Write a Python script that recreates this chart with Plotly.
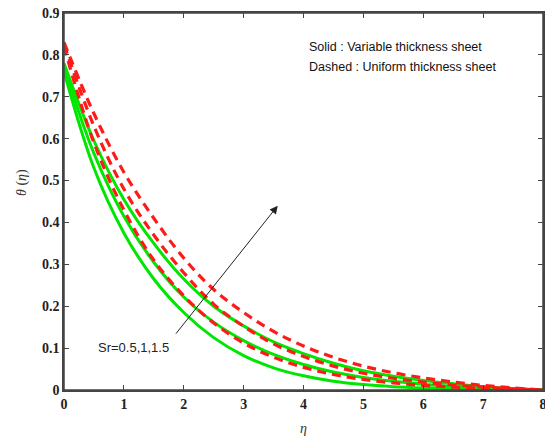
import plotly.graph_objects as go

eta = [0, 0.5, 1, 1.5, 2, 2.5, 3, 3.5, 4, 4.5, 5, 5.5, 6, 6.5, 7, 7.5, 8]

# Solid: variable thickness sheet (Sr = 0.5, 1, 1.5)
solid_sr05 = [0.760, 0.530, 0.375, 0.265, 0.185, 0.125, 0.082, 0.053, 0.034, 0.021, 0.013, 0.008, 0.005, 0.003, 0.0015, 0.0005, 0.0]
solid_sr10 = [0.770, 0.565, 0.415, 0.305, 0.222, 0.162, 0.118, 0.085, 0.061, 0.043, 0.030, 0.021, 0.014, 0.009, 0.005, 0.002, 0.0]
solid_sr15 = [0.780, 0.595, 0.455, 0.350, 0.265, 0.200, 0.153, 0.115, 0.087, 0.064, 0.046, 0.033, 0.023, 0.015, 0.008, 0.003, 0.0]

# Dashed: uniform thickness sheet (Sr = 0.5, 1, 1.5)
dash_sr05 = [0.820, 0.590, 0.430, 0.310, 0.225, 0.160, 0.112, 0.078, 0.054, 0.037, 0.025, 0.017, 0.011, 0.007, 0.004, 0.001, 0.0]
dash_sr10 = [0.825, 0.630, 0.480, 0.370, 0.280, 0.205, 0.152, 0.110, 0.080, 0.057, 0.040, 0.028, 0.019, 0.012, 0.007, 0.003, 0.0]
dash_sr15 = [0.830, 0.660, 0.520, 0.410, 0.315, 0.240, 0.185, 0.140, 0.105, 0.078, 0.057, 0.041, 0.029, 0.019, 0.011, 0.005, 0.0]

x_ticks = [0, 1, 2, 3, 4, 5, 6, 7, 8]
y_ticks = [0, 0.1, 0.2, 0.3, 0.4, 0.5, 0.6, 0.7, 0.8, 0.9]
y_tick_labels = ["0", "0.1", "0.2", "0.3", "0.4", "0.5", "0.6", "0.7", "0.8", "0.9"]

fig = go.Figure()
for ys in [solid_sr05, solid_sr10, solid_sr15]:
    fig.add_trace(go.Scatter(x=eta, y=ys, mode="lines", line=dict(color="#00e600", width=3, shape="spline", smoothing=1.0), showlegend=False))
for ys in [dash_sr05, dash_sr10, dash_sr15]:
    fig.add_trace(go.Scatter(x=eta, y=ys, mode="lines", line=dict(color="#ff1a1a", width=3.2, dash="9px,6px", shape="spline", smoothing=1.0), showlegend=False))

tickfont = dict(family="Liberation Serif", size=14, color="#222222")
axis_common = dict(showline=True, linecolor="#444444", linewidth=1.5, mirror="allticks", ticks="inside", ticklen=5, tickcolor="#444444", showgrid=False, zeroline=False, tickfont=tickfont, automargin=False, ticklabeloverflow="allow")

fig.update_layout(
    width=545, height=440,
    margin=dict(l=64, r=2, t=13, b=50),
    plot_bgcolor="white", paper_bgcolor="white",
    xaxis=dict(range=[0, 8], tickvals=x_ticks, ticktext=[f"<b>{v}</b>" for v in x_ticks], **axis_common),
    yaxis=dict(range=[0, 0.9], tickvals=y_ticks, ticktext=[f"<b>{t}</b>" for t in y_tick_labels], **axis_common),
    showlegend=False,
)

# plot frame
fig.add_shape(type="rect", xref="paper", yref="paper", x0=0, y0=0, x1=1, y1=1, line=dict(color="#444444", width=1.5), layer="above")

# Axis titles
fig.add_annotation(text="<i>η</i>", xref="paper", yref="paper", x=(303-64)/479, y=-(428-390)/377, yanchor="middle", showarrow=False, font=dict(family="Liberation Serif", size=14, color="#333333"))
fig.add_annotation(text="<i>θ</i> (<i>η</i>)", xref="paper", yref="paper", x=-(64-22)/479, y=(390-183)/377, xanchor="center", textangle=-90, showarrow=False, font=dict(family="Liberation Serif", size=14, color="#333333"))

# Arrow and label
fig.add_annotation(x=3.57, y=0.44, ax=1.85, ay=0.131, xref="x", yref="y", axref="x", ayref="y", text="", showarrow=True, arrowhead=2, arrowsize=1.6, arrowwidth=1, arrowcolor="#222222")
fig.add_annotation(text="Sr=0.5,1,1.5", x=0.53, y=0.101, xref="x", yref="y", xanchor="left", showarrow=False, font=dict(family="Arial, Liberation Sans", size=13, color="#222222"))

# Legend text
fig.add_annotation(text="Solid : Variable thickness sheet", xref="paper", yref="paper", x=(307-64)/479, y=(390-38)/377, xanchor="left", showarrow=False, font=dict(family="Liberation Sans", size=12.5, color="#111111"))
fig.add_annotation(text="Dashed : Uniform thickness sheet", xref="paper", yref="paper", x=(307-64)/479, y=(390-58)/377, xanchor="left", showarrow=False, font=dict(family="Liberation Sans", size=12.5, color="#111111"))

fig.write_html("out.html", config={"displayModeBar": False},
               post_script="document.body.style.margin='0';document.body.style.overflow='hidden';")
